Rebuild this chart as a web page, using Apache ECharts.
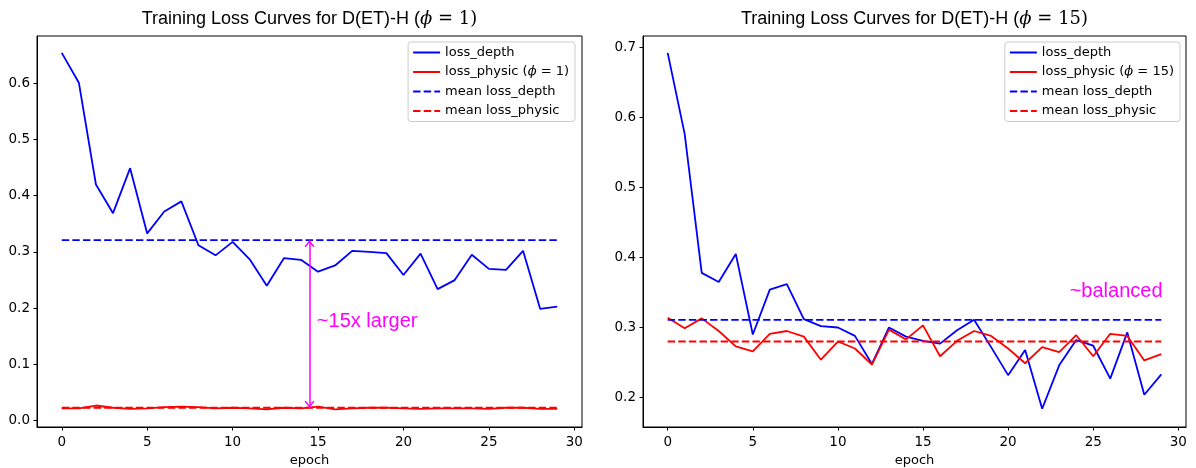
<!DOCTYPE html>
<html>
<head>
<meta charset="utf-8">
<script src="https://cdn.jsdelivr.net/npm/echarts@6/dist/echarts.min.js"></script>
<style>
  html, body { margin: 0; padding: 0; background: #fff; }
  #chart { width: 1196px; height: 468px; }
</style>
</head>
<body>
<div id="chart"></div>
<script>
// values
const epochs = [0, 1, 2, 3, 4, 5, 6, 7, 8, 9, 10, 11, 12, 13, 14, 15, 16, 17, 18, 19, 20, 21, 22, 23, 24, 25, 26, 27, 28, 29];

const depthPhi1 = [0.654, 0.601, 0.420, 0.369, 0.449, 0.333, 0.372, 0.390, 0.312, 0.294,
  0.318, 0.287, 0.240, 0.289, 0.286, 0.265, 0.276, 0.302, 0.300, 0.298,
  0.259, 0.297, 0.234, 0.250, 0.295, 0.270, 0.268, 0.302, 0.199, 0.203];
const physicPhi1 = [0.022, 0.022, 0.027, 0.023, 0.021, 0.022, 0.024, 0.025, 0.024, 0.022,
  0.023, 0.022, 0.020, 0.023, 0.022, 0.025, 0.020, 0.022, 0.023, 0.023,
  0.022, 0.021, 0.022, 0.022, 0.022, 0.021, 0.023, 0.023, 0.021, 0.021];
const meanDepthPhi1 = 0.321;
const meanPhysicPhi1 = 0.023;

const depthPhi15 = [0.692, 0.576, 0.378, 0.365, 0.405, 0.290, 0.354, 0.362, 0.312, 0.302,
  0.300, 0.288, 0.248, 0.300, 0.287, 0.281, 0.277, 0.296, 0.311, 0.272,
  0.232, 0.268, 0.184, 0.246, 0.282, 0.274, 0.227, 0.293, 0.204, 0.233];
const physicPhi15 = [0.314, 0.299, 0.313, 0.295, 0.273, 0.266, 0.291, 0.295, 0.287, 0.254,
  0.280, 0.270, 0.247, 0.297, 0.283, 0.303, 0.259, 0.281, 0.295, 0.288,
  0.270, 0.249, 0.272, 0.265, 0.289, 0.259, 0.291, 0.288, 0.253, 0.262];
const meanDepthPhi15 = 0.311;
const meanPhysicPhi15 = 0.280;

const xTicks = [0, 5, 10, 15, 20, 25, 30];
const yTicksPhi1 = [0, 0.1, 0.2, 0.3, 0.4, 0.5, 0.6];
const yTicksPhi15 = [0.2, 0.3, 0.4, 0.5, 0.6, 0.7];

const BLUE = '#0000ff';
const RED = '#ff0000';
const MAGENTA = '#ff00ff';
const DASH = [7.4, 3.2];
const SANS = 'DejaVu Sans';
const ARIAL = 'Liberation Sans, Arial';

// open chevron with its tip in the middle of the box (the empty subpath pads the box upward)
const CHEVRON = 'path://M5,-7 L5,-7 M5,0 L10,6.2 L8.8,7 L5,2.3 L1.2,7 L0,6.2 Z';

const pairs = (vals) => epochs.map((e, i) => [e, vals[i]]);
const flat = (v) => [[epochs[0], v], [epochs[epochs.length - 1], v]];

function lineSeries(name, data, color, dashed, idx) {
  return {
    name: name,
    type: 'line',
    xAxisIndex: idx,
    yAxisIndex: idx,
    data: data,
    symbol: 'none',
    showSymbol: false,
    animation: false,
    lineStyle: { color: color, width: 1.8, type: dashed ? DASH : 'solid' },
    itemStyle: { color: color }
  };
}

function xAxis(idx) {
  return {
    type: 'value', gridIndex: idx, min: -1.45, max: 30.45,
    name: 'epoch', nameLocation: 'middle', nameGap: 24,
    nameTextStyle: { fontFamily: SANS, fontSize: 13, color: '#000' },
    splitLine: { show: false },
    axisLine: { show: true, onZero: false, lineStyle: { color: '#000', width: 1 } },
    axisTick: { show: true, length: 3.5, customValues: xTicks, lineStyle: { color: '#000' } },
    axisLabel: { customValues: xTicks, margin: 8, fontFamily: SANS, fontSize: 13.5, color: '#000' }
  };
}

function yAxis(idx, min, max, ticks) {
  return {
    type: 'value', gridIndex: idx, min: min, max: max,
    splitLine: { show: false },
    axisLine: { show: true, onZero: false, lineStyle: { color: '#000', width: 1 } },
    axisTick: { show: true, length: 3.5, customValues: ticks, lineStyle: { color: '#000' } },
    axisLabel: { customValues: ticks, margin: 7, fontFamily: SANS, fontSize: 13.5, color: '#000',
      formatter: (v) => v.toFixed(1) }
  };
}

function legend(names, right) {
  return {
    data: names,
    orient: 'vertical',
    right: right, top: 42,
    itemWidth: 27, itemHeight: 1, itemGap: 6.5,
    padding: [4, 6, 4, 4],
    borderColor: '#cccccc', borderWidth: 1, borderRadius: 3,
    backgroundColor: 'rgba(255,255,255,0.8)',
    selectedMode: false,
    itemStyle: { color: 'rgba(0,0,0,0)', borderWidth: 0, opacity: 0 },
    formatter: (n) => n.replace('ϕ', '{i|ϕ}'),
    textStyle: { fontFamily: SANS, fontSize: 13, color: '#000',
      rich: { i: { fontFamily: 'DejaVu Serif', fontStyle: 'italic', fontSize: 13, color: '#000' } } }
  };
}

function title(x, phi) {
  return {
    type: 'text', x: x, y: 19,
    style: {
      text: '{a|Training Loss Curves for D(ET)-H (}{m|ϕ}{b| = ' + phi + ')}',
      align: 'center', verticalAlign: 'middle',
      rich: {
        a: { fontFamily: ARIAL, fontSize: 18, fill: '#000' },
        m: { fontFamily: 'DejaVu Serif', fontStyle: 'italic', fontSize: 18, fill: '#000' },
        b: { fontFamily: 'DejaVu Serif', fontSize: 18, fill: '#000' }
      }
    }
  };
}

const depthLeft = lineSeries('loss_depth', pairs(depthPhi1), BLUE, false, 0);
depthLeft.markLine = {
  silent: true, animation: false,
  symbol: [CHEVRON, CHEVRON], symbolSize: [10, 14],
  lineStyle: { color: MAGENTA, width: 1.5, type: 'solid' },
  label: { show: false },
  data: [[{ coord: [14.5, meanDepthPhi1] }, { coord: [14.5, meanPhysicPhi1] }]]
};
depthLeft.markPoint = {
  silent: true, animation: false,
  symbol: 'rect', symbolSize: 1, itemStyle: { color: 'transparent' },
  data: [{ coord: [14.9, 0.176],
    label: { show: true, position: 'right', distance: 0, formatter: '~15x larger',
      color: MAGENTA, fontSize: 20, fontFamily: ARIAL } }]
};

const depthRight = lineSeries('loss_depth', pairs(depthPhi15), BLUE, false, 1);
depthRight.markPoint = {
  silent: true, animation: false,
  symbol: 'rect', symbolSize: 1, itemStyle: { color: 'transparent' },
  data: [{ coord: [29.1, 0.352],
    label: { show: true, position: 'left', distance: 0, formatter: '~balanced',
      color: MAGENTA, fontSize: 20, fontFamily: ARIAL } }]
};

const chart = echarts.init(document.getElementById('chart'));
chart.setOption({
  animation: false,
  backgroundColor: '#fff',
  grid: [
    { left: 37, top: 36, width: 545, height: 391, show: true, borderColor: '#000', borderWidth: 1,
      outerBoundsMode: 'none' },
    { left: 643, top: 36, width: 543, height: 391, show: true, borderColor: '#000', borderWidth: 1,
      outerBoundsMode: 'none' }
  ],
  xAxis: [xAxis(0), xAxis(1)],
  yAxis: [yAxis(0, -0.0112, 0.684, yTicksPhi1), yAxis(1, 0.158, 0.716, yTicksPhi15)],
  legend: [
    legend(['loss_depth', 'loss_physic (ϕ = 1)', 'mean loss_depth', 'mean loss_physic'], 621),
    legend(['loss_depth', 'loss_physic (ϕ = 15)', 'mean loss_depth', 'mean loss_physic'], 16)
  ],
  graphic: [title(309.5, 1), title(914.5, 15)],
  series: [
    depthLeft,
    lineSeries('loss_physic (ϕ = 1)', pairs(physicPhi1), RED, false, 0),
    lineSeries('mean loss_depth', flat(meanDepthPhi1), BLUE, true, 0),
    lineSeries('mean loss_physic', flat(meanPhysicPhi1), RED, true, 0),
    depthRight,
    lineSeries('loss_physic (ϕ = 15)', pairs(physicPhi15), RED, false, 1),
    lineSeries('mean loss_depth', flat(meanDepthPhi15), BLUE, true, 1),
    lineSeries('mean loss_physic', flat(meanPhysicPhi15), RED, true, 1)
  ]
});
</script>
</body>
</html>
